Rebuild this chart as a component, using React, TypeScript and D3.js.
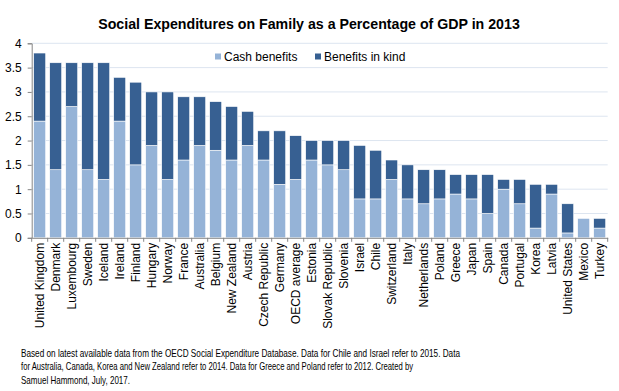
import React, { useEffect, useRef } from 'react';
import * as d3 from 'd3';

const countries = [
  'United Kingdom', 'Denmark', 'Luxembourg', 'Sweden', 'Iceland', 'Ireland', 'Finland',
  'Hungary', 'Norway', 'France', 'Australia', 'Belgium', 'New Zealand', 'Austria',
  'Czech Republic', 'Germany', 'OECD average', 'Estonia', 'Slovak Republic', 'Slovenia',
  'Israel', 'Chile', 'Switzerland', 'Italy', 'Netherlands', 'Poland', 'Greece', 'Japan',
  'Spain', 'Canada', 'Portugal', 'Korea', 'Latvia', 'United States', 'Mexico', 'Turkey'
];
const cashBenefits = [
  2.4, 1.4, 2.7, 1.4, 1.2, 2.4, 1.5, 1.9, 1.2, 1.6, 1.9, 1.8, 1.6, 1.9,
  1.6, 1.1, 1.2, 1.6, 1.5, 1.4, 0.8, 0.8, 1.2, 0.8, 0.7, 0.8, 0.9, 0.8,
  0.5, 1.0, 0.7, 0.2, 0.9, 0.1, 0.4, 0.2
];
const benefitsInKind = [
  1.4, 2.2, 0.9, 2.2, 2.4, 0.9, 1.7, 1.1, 1.8, 1.3, 1.0, 1.0, 1.1, 0.7,
  0.6, 1.1, 0.9, 0.4, 0.5, 0.6, 1.1, 1.0, 0.4, 0.7, 0.7, 0.6, 0.4, 0.5,
  0.8, 0.2, 0.5, 0.9, 0.2, 0.6, 0.0, 0.2
];
const seriesNames = ['Cash benefits', 'Benefits in kind'];
const seriesColors = ['#95b3d7', '#376092'];
const yTicks = [0, 0.5, 1, 1.5, 2, 2.5, 3, 3.5, 4];
const footnote = [
  'Based on latest available data from the OECD  Social Expenditure Database. Data for Chile and Israel refer to 2015. Data',
  'for Australia, Canada, Korea and New Zealand refer to 2014. Data for Greece and Poland  refer to 2012. Created by',
  'Samuel Hammond,  July, 2017.'
];
const footWidths = [439, 392, 109];

const W = 619;
const H = 391;
const left = 31.7;
const right = 607.7;
const top = 43.3;
const bottom = 237.8;

export default function App() {
  const ref = useRef<SVGSVGElement>(null);

  useEffect(() => {
    const svg = d3.select(ref.current);
    svg.selectAll('*').remove();
    const font = 'Liberation Sans, Arial, sans-serif';

    const x = d3.scaleBand<string>().domain(countries).range([left, right])
      .paddingInner(0.25).paddingOuter(0.125);
    const y = d3.scaleLinear().domain([0, 4]).range([bottom, top]);

    // grid
    svg.append('g').selectAll('line').data(yTicks.filter(t => t > 0)).enter().append('line')
      .attr('x1', left).attr('x2', right)
      .attr('y1', d => y(d)).attr('y2', d => y(d))
      .attr('stroke', '#dde5f0').attr('stroke-width', 1);

    // stacked bars
    const rows = countries.map((c, i) => ({ country: c, cash: cashBenefits[i], kind: benefitsInKind[i] }));
    const stack = d3.stack<any>().keys(['cash', 'kind'])(rows);
    stack.forEach((layer, li) => {
      svg.append('g').selectAll('rect').data(layer).enter().append('rect')
        .attr('x', d => x(d.data.country)!)
        .attr('width', x.bandwidth())
        .attr('y', d => y(d[1]))
        .attr('height', d => Math.max(0, y(d[0]) - y(d[1])))
        .attr('fill', seriesColors[li])
        .attr('stroke', '#ffffff').attr('stroke-width', 0.6);
    });

    // y axis
    const yAxis = d3.axisLeft(y).tickValues(yTicks).tickSize(4).tickPadding(6)
      .tickFormat(d => String(d));
    const gy = svg.append('g').attr('transform', `translate(${left},0)`).call(yAxis);
    gy.selectAll('path,line').attr('stroke', '#868686');
    gy.selectAll('text').attr('font-family', font).attr('font-size', 12).attr('fill', '#000');

    // x axis
    const xAxis = d3.axisBottom(x).tickSize(0).tickPadding(0);
    const gx = svg.append('g').attr('transform', `translate(0,${bottom})`).call(xAxis);
    gx.select('path').attr('stroke', '#868686');
    gx.selectAll('text').attr('font-family', font).attr('font-size', 12).attr('fill', '#000')
      .attr('transform', 'rotate(-90)').attr('text-anchor', 'end')
      .attr('x', -5).attr('y', 0).attr('dy', '0.35em');
    const bstep = x.step();
    gx.append('g').selectAll('line').data(d3.range(countries.length + 1)).enter().append('line')
      .attr('x1', i => left + i * bstep).attr('x2', i => left + i * bstep)
      .attr('y1', 0).attr('y2', 4).attr('stroke', '#868686');

    // title
    svg.append('text').attr('x', 309).attr('y', 29).attr('text-anchor', 'middle')
      .attr('font-family', font).attr('font-weight', 'bold').attr('font-size', 14.2)
      .text('Social Expenditures on Family as a Percentage of GDP in 2013');

    // legend
    const lx = [215, 315];
    seriesNames.forEach((n, i) => {
      svg.append('rect').attr('x', lx[i]).attr('y', 53.5).attr('width', 6).attr('height', 6)
        .attr('fill', seriesColors[i]);
      svg.append('text').attr('x', lx[i] + 9).attr('y', 61).attr('font-family', font)
        .attr('font-size', 12).attr('fill', '#000').text(n);
    });

    // footnote
    footnote.forEach((t, i) => {
      svg.append('text').attr('x', 21).attr('y', 357 + i * 13.3).attr('font-family', font)
        .attr('font-size', 10.3).attr('fill', '#000')
        .attr('textLength', footWidths[i]).attr('lengthAdjust', 'spacingAndGlyphs').text(t);
    });
  }, []);

  return <svg ref={ref} width={W} height={H} style={{ position: 'absolute', left: 0, top: 0, background: '#fff' }} />;
}
